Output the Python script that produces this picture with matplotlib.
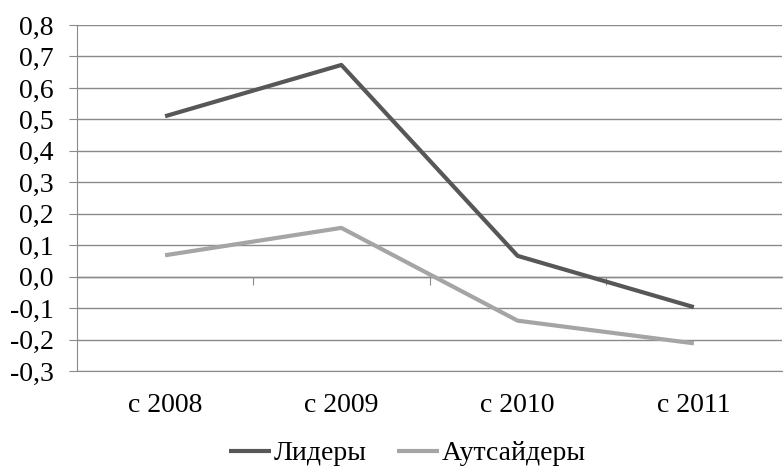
import matplotlib.pyplot as plt

# данные
categories = ['с 2008', 'с 2009', 'с 2010', 'с 2011']
leaders = [0.51, 0.673, 0.066, -0.097]
outsiders = [0.068, 0.155, -0.14, -0.212]
yticks = [-0.3, -0.2, -0.1, 0.0, 0.1, 0.2, 0.3, 0.4, 0.5, 0.6, 0.7, 0.8]

plt.rcParams['font.family'] = ['Liberation Serif', 'DejaVu Serif']

grid_c = '#8a8a8a'
fs = 20
fig = plt.figure(figsize=(7.83, 4.68), dpi=100)
ax = fig.add_axes([77 / 783, 97 / 468, 705 / 783, 346 / 468])

x = list(range(len(categories)))
ax.plot(x, leaders, color='#575757', lw=3.0, label='Лидеры', solid_capstyle='butt')
ax.plot(x, outsiders, color='#a5a5a5', lw=3.0, label='Аутсайдеры', solid_capstyle='butt')

ax.set_xlim(-0.5, 3.5)
ax.set_ylim(-0.3, 0.8)
ax.set_yticks(yticks)
ax.set_yticklabels([f'{v:.1f}'.replace('.', ',') for v in yticks], fontsize=fs)
ax.yaxis.grid(True, color=grid_c, lw=1.0)
ax.set_axisbelow(True)

for s in ['top', 'right']:
    ax.spines[s].set_visible(False)
ax.spines['left'].set_color(grid_c)
ax.spines['bottom'].set_color(grid_c)
ax.tick_params(axis='y', length=6, color=grid_c, pad=11)

# подписи категорий внизу
ax.set_xticks(x)
ax.set_xticklabels(categories, fontsize=fs)
ax.tick_params(axis='x', length=0, pad=16)

# ось X по нулю с засечками между категориями
sec = ax.secondary_xaxis(0.3 / 1.1)
sec.set_xticks([0.5, 1.5, 2.5])
sec.set_xticklabels([])
sec.spines['bottom'].set_color(grid_c)
sec.spines['bottom'].set_linewidth(1.0)
sec.tick_params(length=6, color=grid_c)

fig.legend(loc='lower center', bbox_to_anchor=(0.52, -0.05), ncol=2, frameon=False,
           fontsize=fs, handlelength=1.5, handletextpad=0.1, columnspacing=1.1)

plt.savefig('out.png', dpi=100)
